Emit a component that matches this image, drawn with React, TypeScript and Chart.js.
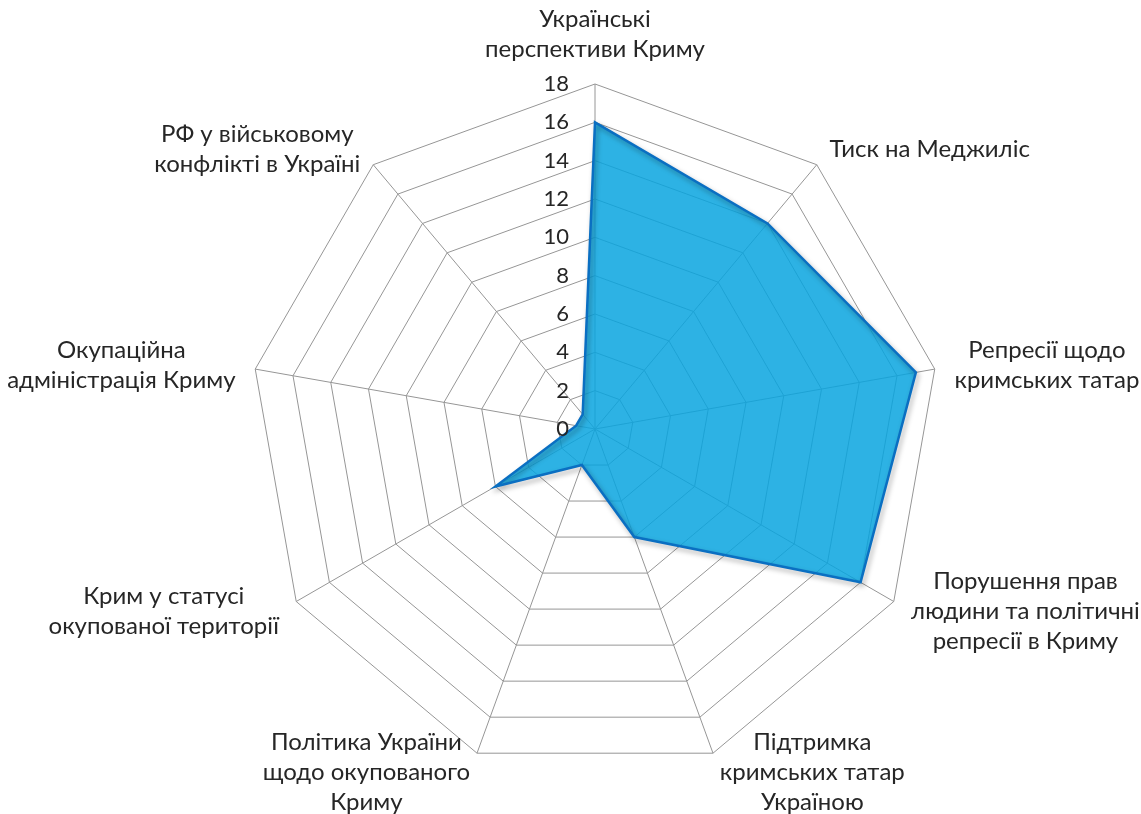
import React, { useEffect, useRef } from "react";
import { Chart, registerables } from "chart.js";

Chart.register(...registerables);

const categories: string[][] = [
  ["Українські", "перспективи Криму"],
  ["Тиск на Меджиліс"],
  ["Репресії щодо", "кримських татар"],
  ["Порушення прав", "людини та політичні", "репресії в Криму"],
  ["Підтримка", "кримських татар", "Україною"],
  ["Політика України", "щодо окупованого", "Криму"],
  ["Крим у статусі", "окупованої території"],
  ["Окупаційна", "адміністрація Криму"],
  ["РФ у військовому", "конфлікті в Україні"],
];

const seriesValues: number[] = [16, 14, 17, 16, 6, 2, 6, 1, 1];

const axisMin = 0;
const axisMax = 18;
const axisStep = 2;

const FONT_FAMILY = "Lato, 'Open Sans', 'Noto Sans', sans-serif";
const LABEL_FONT_SIZE = 24;
const TICK_FONT_SIZE = 22;
const LINE_HEIGHT = 30;
const TEXT_COLOR = "#262626";
const GRID_COLOR = "#969696";

const shadowPlugin = {
  id: "areaShadow",
  beforeDatasetDraw(chart: any) {
    const ctx = chart.ctx;
    ctx.save();
    ctx.shadowColor = "rgba(0,0,0,0.35)";
    ctx.shadowBlur = 5;
    ctx.shadowOffsetX = 2;
    ctx.shadowOffsetY = 3;
  },
  afterDatasetDraw(chart: any) {
    chart.ctx.restore();
  },
};

const textPlugin = {
  id: "excelText",
  afterDraw(chart: any) {
    const s = chart.scales.r;
    const ctx = chart.ctx;
    ctx.save();
    ctx.fillStyle = TEXT_COLOR;
    ctx.textBaseline = "middle";

    // tick labels, left of the vertical axis
    ctx.font = `${TICK_FONT_SIZE}px ${FONT_FAMILY}`;
    ctx.textAlign = "right";
    s.ticks.forEach((t: any) => {
      const d = s.getDistanceFromCenterForValue(t.value);
      ctx.fillText(String(t.value), s.xCenter - 26, s.yCenter - d);
    });

    // category labels
    ctx.font = `${LABEL_FONT_SIZE}px ${FONT_FAMILY}`;
    const labels: string[][] = chart.data.labels;
    const n = labels.length;
    ctx.textAlign = "center";
    labels.forEach((lines, i) => {
      const p = s.getPointPosition(i, s.drawingArea + 20);
      const a = (i * 2 * Math.PI) / n;
      const sin = Math.sin(a);
      const cos = Math.cos(a);
      const w = Math.max(...lines.map((l) => ctx.measureText(l).width));
      const h = lines.length * LINE_HEIGHT;
      let left: number;
      if (sin > 0.05) left = p.x;
      else if (sin < -0.05) left = p.x - w;
      else left = p.x - w / 2;
      let top: number;
      if (Math.abs(sin) < 0.05) top = cos > 0 ? p.y - h : p.y;
      else top = p.y - h / 2;
      lines.forEach((l, k) => {
        ctx.fillText(l, left + w / 2, top + LINE_HEIGHT * (k + 0.5));
      });
    });
    ctx.restore();
  },
};

export default function App() {
  const canvasRef = useRef<HTMLCanvasElement | null>(null);

  useEffect(() => {
    if (!canvasRef.current) return;
    const chart = new Chart(canvasRef.current, {
      type: "radar",
      data: {
        labels: categories as any,
        datasets: [
          {
            label: "Series",
            data: seriesValues,
            backgroundColor: "rgba(8,164,223,0.85)",
            borderColor: "#0a6fc2",
            borderWidth: 2.5,
            pointRadius: 0,
            pointHoverRadius: 0,
            fill: true,
          },
        ],
      },
      options: {
        responsive: false,
        animation: false,
        layout: { padding: { left: 250, right: 201, top: 84, bottom: 40 } },
        plugins: {
          legend: { display: false },
          tooltip: { enabled: false },
        },
        scales: {
          r: {
            min: axisMin,
            max: axisMax,
            ticks: { stepSize: axisStep, display: false },
            pointLabels: { display: false },
            grid: { color: GRID_COLOR, lineWidth: 1, circular: false },
            angleLines: { color: GRID_COLOR, lineWidth: 1 },
          },
        },
      },
      plugins: [shadowPlugin, textPlugin],
    });
    return () => chart.destroy();
  }, []);

  return (
    <div style={{ position: "fixed", left: 0, top: 0, width: 1141, height: 814, background: "#fff" }}>
      <canvas ref={canvasRef} width={1141} height={814} style={{ display: "block" }} />
    </div>
  );
}
